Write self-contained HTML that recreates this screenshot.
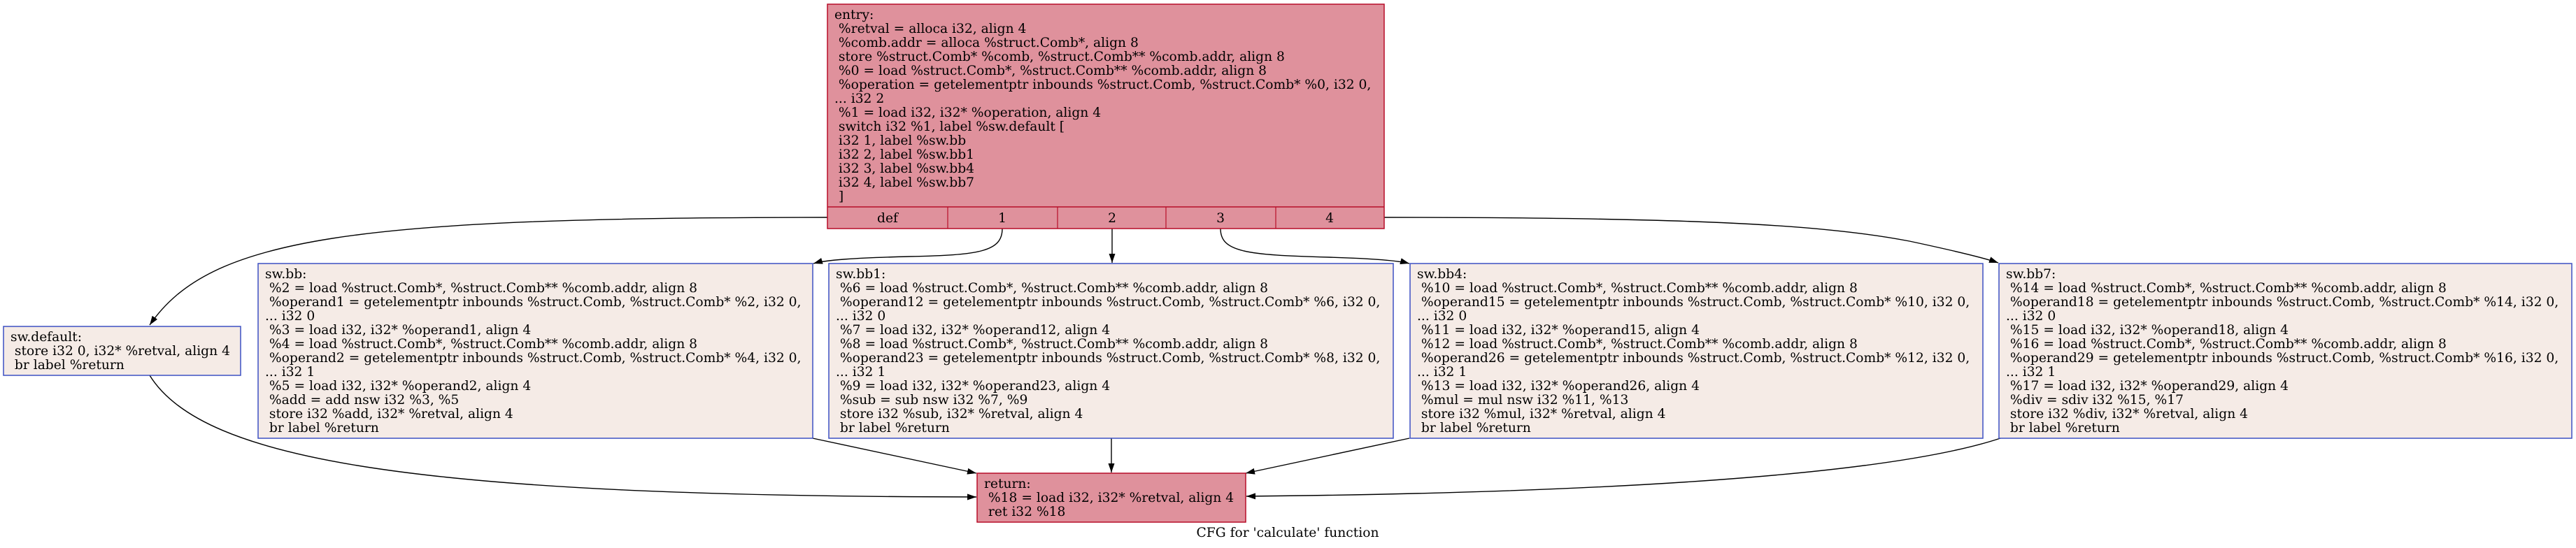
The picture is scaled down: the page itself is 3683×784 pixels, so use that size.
<!DOCTYPE html>
<html><head><meta charset="utf-8"><style>
html,body{margin:0;padding:0;background:#fff;}
svg{display:block;}
text{font-family:"DejaVu Serif","Liberation Serif",serif;font-size:18.67px;fill:#000;white-space:pre;}
</style></head><body>
<svg width="3683" height="784" viewBox="0 0 3683 784" xmlns="http://www.w3.org/2000/svg" xml:space="preserve">
<defs>
<marker id="a" markerUnits="userSpaceOnUse" markerWidth="14" markerHeight="10" refX="13" refY="4.5" orient="auto">
<path d="M0,0 L13,4.5 L0,9 z" fill="#000"/>
</marker>
</defs>
<rect width="3683" height="784" fill="#fff"/>

<g fill="none" stroke="#000" stroke-width="1.4" marker-end="url(#a)">
<path d="M1183,311 C500,311 300,340 214,465"/>
<path d="M214,537 C290,660 600,710 1396,711"/>
<path d="M1433,327 C1433,360 1400,365 1300,367 C1220,369 1180,372 1163,377"/>
<path d="M1590,327 L1590,376"/>
<path d="M1745,327 C1745,360 1780,365 1900,368 C1970,370 2000,373 2015,377"/>
<path d="M1979,311 C2400,311 2600,320 2730,345 C2800,360 2840,370 2857,376"/>
<path d="M1162,627 L1396,677"/>
<path d="M1589,627 L1589,676"/>
<path d="M2015,627 L1781,677"/>
<path d="M2860,627 C2700,680 2300,705 1782,710"/>
</g>

<rect x="1183" y="6" width="796" height="321" fill="#df919c" stroke="#b70d28" stroke-width="1.5"/>
<line x1="1183" y1="296" x2="1979" y2="296" stroke="#b70d28" stroke-width="1.5"/>
<g stroke="#b70d28" stroke-width="1.2">
<line x1="1355" y1="296" x2="1355" y2="327"/>
<line x1="1512" y1="296" x2="1512" y2="327"/>
<line x1="1667" y1="296" x2="1667" y2="327"/>
<line x1="1824" y1="296" x2="1824" y2="327"/>
</g>
<g>
<text x="1193" y="27">entry:</text>
<text x="1193" y="47"> %retval = alloca i32, align 4</text>
<text x="1193" y="67"> %comb.addr = alloca %struct.Comb*, align 8</text>
<text x="1193" y="87"> store %struct.Comb* %comb, %struct.Comb** %comb.addr, align 8</text>
<text x="1193" y="107"> %0 = load %struct.Comb*, %struct.Comb** %comb.addr, align 8</text>
<text x="1193" y="127"> %operation = getelementptr inbounds %struct.Comb, %struct.Comb* %0, i32 0,</text>
<text x="1193" y="147">... i32 2</text>
<text x="1193" y="167"> %1 = load i32, i32* %operation, align 4</text>
<text x="1193" y="187"> switch i32 %1, label %sw.default [</text>
<text x="1193" y="207"> i32 1, label %sw.bb</text>
<text x="1193" y="227"> i32 2, label %sw.bb1</text>
<text x="1193" y="247"> i32 3, label %sw.bb4</text>
<text x="1193" y="267"> i32 4, label %sw.bb7</text>
<text x="1193" y="287"> ]</text>
</g>
<g text-anchor="middle">
<text x="1269" y="318">def</text>
<text x="1433" y="318">1</text>
<text x="1590" y="318">2</text>
<text x="1745" y="318">3</text>
<text x="1901" y="318">4</text>
</g>

<rect x="5" y="467" width="339" height="70" fill="#f5ebe6" stroke="#3d50c3" stroke-width="1.5"/>
<text x="15" y="488">sw.default:</text>
<text x="15" y="508"> store i32 0, i32* %retval, align 4</text>
<text x="15" y="528"> br label %return</text>

<rect x="369" y="377" width="793" height="250" fill="#f5ebe6" stroke="#3d50c3" stroke-width="1.5"/>
<g>
<text x="379" y="398">sw.bb:</text>
<text x="379" y="418"> %2 = load %struct.Comb*, %struct.Comb** %comb.addr, align 8</text>
<text x="379" y="438"> %operand1 = getelementptr inbounds %struct.Comb, %struct.Comb* %2, i32 0,</text>
<text x="379" y="458">... i32 0</text>
<text x="379" y="478"> %3 = load i32, i32* %operand1, align 4</text>
<text x="379" y="498"> %4 = load %struct.Comb*, %struct.Comb** %comb.addr, align 8</text>
<text x="379" y="518"> %operand2 = getelementptr inbounds %struct.Comb, %struct.Comb* %4, i32 0,</text>
<text x="379" y="538">... i32 1</text>
<text x="379" y="558"> %5 = load i32, i32* %operand2, align 4</text>
<text x="379" y="578"> %add = add nsw i32 %3, %5</text>
<text x="379" y="598"> store i32 %add, i32* %retval, align 4</text>
<text x="379" y="618"> br label %return</text>
</g>

<rect x="1185" y="377" width="807" height="250" fill="#f5ebe6" stroke="#3d50c3" stroke-width="1.5"/>
<g>
<text x="1195" y="398">sw.bb1:</text>
<text x="1195" y="418"> %6 = load %struct.Comb*, %struct.Comb** %comb.addr, align 8</text>
<text x="1195" y="438"> %operand12 = getelementptr inbounds %struct.Comb, %struct.Comb* %6, i32 0,</text>
<text x="1195" y="458">... i32 0</text>
<text x="1195" y="478"> %7 = load i32, i32* %operand12, align 4</text>
<text x="1195" y="498"> %8 = load %struct.Comb*, %struct.Comb** %comb.addr, align 8</text>
<text x="1195" y="518"> %operand23 = getelementptr inbounds %struct.Comb, %struct.Comb* %8, i32 0,</text>
<text x="1195" y="538">... i32 1</text>
<text x="1195" y="558"> %9 = load i32, i32* %operand23, align 4</text>
<text x="1195" y="578"> %sub = sub nsw i32 %7, %9</text>
<text x="1195" y="598"> store i32 %sub, i32* %retval, align 4</text>
<text x="1195" y="618"> br label %return</text>
</g>

<rect x="2016" y="377" width="819" height="250" fill="#f5ebe6" stroke="#3d50c3" stroke-width="1.5"/>
<g>
<text x="2026" y="398">sw.bb4:</text>
<text x="2026" y="418"> %10 = load %struct.Comb*, %struct.Comb** %comb.addr, align 8</text>
<text x="2026" y="438"> %operand15 = getelementptr inbounds %struct.Comb, %struct.Comb* %10, i32 0,</text>
<text x="2026" y="458">... i32 0</text>
<text x="2026" y="478"> %11 = load i32, i32* %operand15, align 4</text>
<text x="2026" y="498"> %12 = load %struct.Comb*, %struct.Comb** %comb.addr, align 8</text>
<text x="2026" y="518"> %operand26 = getelementptr inbounds %struct.Comb, %struct.Comb* %12, i32 0,</text>
<text x="2026" y="538">... i32 1</text>
<text x="2026" y="558"> %13 = load i32, i32* %operand26, align 4</text>
<text x="2026" y="578"> %mul = mul nsw i32 %11, %13</text>
<text x="2026" y="598"> store i32 %mul, i32* %retval, align 4</text>
<text x="2026" y="618"> br label %return</text>
</g>

<rect x="2858" y="377" width="819" height="250" fill="#f5ebe6" stroke="#3d50c3" stroke-width="1.5"/>
<g>
<text x="2868" y="398">sw.bb7:</text>
<text x="2868" y="418"> %14 = load %struct.Comb*, %struct.Comb** %comb.addr, align 8</text>
<text x="2868" y="438"> %operand18 = getelementptr inbounds %struct.Comb, %struct.Comb* %14, i32 0,</text>
<text x="2868" y="458">... i32 0</text>
<text x="2868" y="478"> %15 = load i32, i32* %operand18, align 4</text>
<text x="2868" y="498"> %16 = load %struct.Comb*, %struct.Comb** %comb.addr, align 8</text>
<text x="2868" y="518"> %operand29 = getelementptr inbounds %struct.Comb, %struct.Comb* %16, i32 0,</text>
<text x="2868" y="538">... i32 1</text>
<text x="2868" y="558"> %17 = load i32, i32* %operand29, align 4</text>
<text x="2868" y="578"> %div = sdiv i32 %15, %17</text>
<text x="2868" y="598"> store i32 %div, i32* %retval, align 4</text>
<text x="2868" y="618"> br label %return</text>
</g>

<rect x="1397" y="677" width="384" height="70" fill="#df919c" stroke="#b70d28" stroke-width="1.5"/>
<text x="1407" y="698">return:</text>
<text x="1407" y="718"> %18 = load i32, i32* %retval, align 4</text>
<text x="1407" y="738"> ret i32 %18</text>

<text x="1841" y="768" text-anchor="middle">CFG for 'calculate' function</text>
</svg>
</body></html>
